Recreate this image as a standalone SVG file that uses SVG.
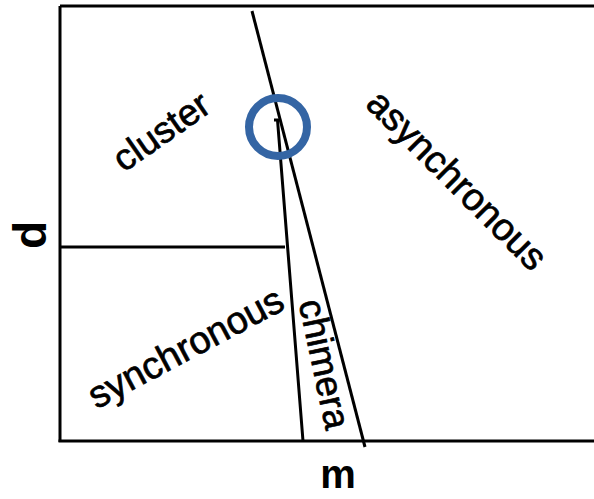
<svg xmlns="http://www.w3.org/2000/svg" width="594" height="499" viewBox="0 0 594 499">
<style>
.ln{stroke:#000;stroke-width:3;fill:none;stroke-linecap:butt}
.lbl{font-family:"Liberation Sans",Arial,sans-serif;fill:#000;stroke:#000;stroke-width:0.7;text-anchor:middle}
.ax{font-family:"Liberation Sans",Arial,sans-serif;font-weight:bold;fill:#000;text-anchor:middle}
</style>
<rect width="594" height="499" fill="#fff"/>
<g id="axes">
<line class="ln" x1="60" y1="6" x2="594" y2="6"/>
<line class="ln" x1="60" y1="6" x2="60" y2="442"/>
<line class="ln" x1="58.5" y1="441" x2="594" y2="441"/>
</g>
<g id="connectors">
<line class="ln" x1="60" y1="247" x2="285" y2="247"/>
<line class="ln" x1="252" y1="11" x2="365" y2="447"/>
<polyline class="ln" points="274,120 277.5,120 303,441"/>
</g>
<g id="critical-point">
<circle cx="278" cy="127" r="29" fill="none" stroke="#3465a4" stroke-width="8"/>
</g>
<g id="cluster"><text class="lbl" font-size="37" transform="translate(161,131) rotate(-35)" y="13">cluster</text></g>
<g id="synchronous"><text class="lbl" font-size="38" transform="translate(187,350) rotate(-28)" y="10">synchronous</text></g>
<g id="chimera"><text class="lbl" font-size="37" transform="translate(325,364) rotate(78)" y="13">chimera</text></g>
<g id="asynchronous"><text class="lbl" font-size="38" transform="translate(455,182) rotate(45)" y="10">asynchronous</text></g>
<g id="d-label"><text class="ax" font-size="46" transform="translate(30,235) rotate(-90)" y="16">d</text></g>
<g id="m-label"><text class="ax" font-size="40" x="338" y="488">m</text></g>
</svg>
